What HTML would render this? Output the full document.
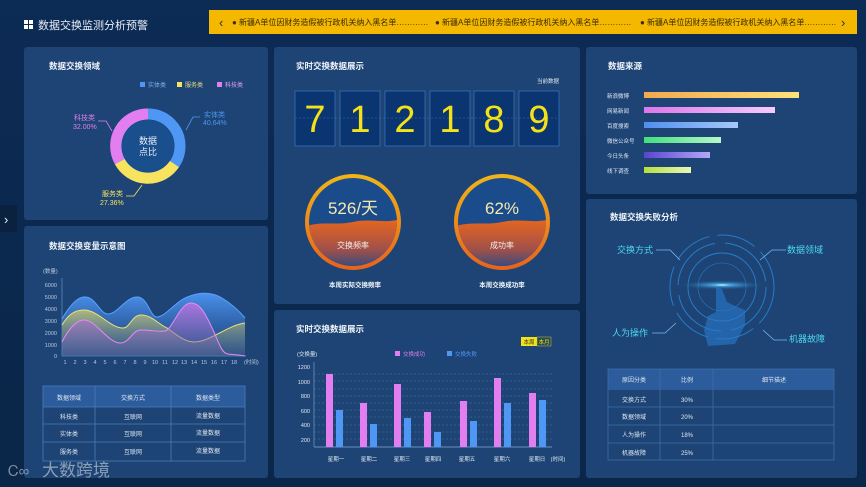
<!DOCTYPE html>
<html><head><meta charset="utf-8"><style>
html,body{margin:0;padding:0;background:#0b2a52;}
svg{display:block;font-family:"Liberation Sans","Noto Sans CJK SC",sans-serif;}
</style></head><body>
<svg width="866" height="487" viewBox="0 0 866 487" xmlns="http://www.w3.org/2000/svg">
<defs>
<linearGradient id="bg" x1="0" y1="0" x2="0" y2="1"><stop offset="0" stop-color="#0c2b55"/><stop offset="1" stop-color="#0a2648"/></linearGradient>
<linearGradient id="gb" x1="0" y1="0" x2="0" y2="1"><stop offset="0" stop-color="#4f97f5" stop-opacity="0.95"/><stop offset="1" stop-color="#2a5fae" stop-opacity="0.2"/></linearGradient>
<linearGradient id="gy" x1="0" y1="0" x2="0" y2="1"><stop offset="0" stop-color="#c8c86a" stop-opacity="0.8"/><stop offset="1" stop-color="#5a7090" stop-opacity="0.3"/></linearGradient>
<linearGradient id="gp" x1="0" y1="0" x2="0" y2="1"><stop offset="0" stop-color="#c070e0" stop-opacity="0.85"/><stop offset="1" stop-color="#6a6aa8" stop-opacity="0.3"/></linearGradient>
<linearGradient id="ring" x1="0" y1="0" x2="0" y2="1"><stop offset="0" stop-color="#f0b418"/><stop offset="1" stop-color="#e8641c"/></linearGradient>
<linearGradient id="wave" x1="0" y1="0" x2="0" y2="1"><stop offset="0" stop-color="#e8661e"/><stop offset="0.6" stop-color="#a0504a"/><stop offset="1" stop-color="#204a8a"/></linearGradient>
<linearGradient id="b1" x1="0" x2="1"><stop offset="0" stop-color="#f3a850"/><stop offset="1" stop-color="#fbe27a"/></linearGradient>
<linearGradient id="b2" x1="0" x2="1"><stop offset="0" stop-color="#de76ea"/><stop offset="1" stop-color="#f4ccfa"/></linearGradient>
<linearGradient id="b3" x1="0" x2="1"><stop offset="0" stop-color="#4f8ef0"/><stop offset="1" stop-color="#a8c8f8"/></linearGradient>
<linearGradient id="b4" x1="0" x2="1"><stop offset="0" stop-color="#40e07a"/><stop offset="1" stop-color="#b8f8c8"/></linearGradient>
<linearGradient id="b5" x1="0" x2="1"><stop offset="0" stop-color="#5a44d0"/><stop offset="1" stop-color="#b4a8f8"/></linearGradient>
<linearGradient id="b6" x1="0" x2="1"><stop offset="0" stop-color="#b4e03a"/><stop offset="1" stop-color="#eaf8b8"/></linearGradient>
<radialGradient id="glow"><stop offset="0" stop-color="#ffffff"/><stop offset="0.2" stop-color="#4fc0ff" stop-opacity="0.8"/><stop offset="1" stop-color="#1d4474" stop-opacity="0"/></radialGradient>
<clipPath id="c1"><circle cx="353" cy="222" r="44"/></clipPath>
<clipPath id="c2"><circle cx="502" cy="222" r="44"/></clipPath>
</defs>
<rect width="866" height="487" fill="url(#bg)"/>

<!-- header -->
<g fill="#fff"><rect x="24" y="20" width="4" height="4"/><rect x="29" y="20" width="4" height="4"/><rect x="24" y="25" width="4" height="4"/><rect x="29" y="25" width="4" height="4"/></g>
<text x="38" y="29" font-size="11" fill="#e8eef8">数据交换监测分析预警</text>
<rect x="209" y="10" width="648" height="24" fill="#f5b800"/>
<text x="219" y="27" font-size="13" fill="#333">‹</text>
<text x="841" y="27" font-size="13" fill="#333">›</text>
<g font-size="8" fill="#3a2c00">
<text x="232" y="25">● 新疆A单位因财务造假被行政机关纳入黑名单…………</text>
<text x="435" y="25">● 新疆A单位因财务造假被行政机关纳入黑名单…………</text>
<text x="640" y="25">● 新疆A单位因财务造假被行政机关纳入黑名单…………</text>
</g>
<rect x="0" y="205" width="17" height="27" fill="#0a2240"/>
<text x="4" y="224" font-size="13" fill="#cfe">›</text>

<!-- panels -->
<g fill="#1d4474">
<rect x="24" y="47" width="244" height="173" rx="3"/>
<rect x="24" y="226" width="244" height="252" rx="3"/>
<rect x="274" y="47" width="306" height="257" rx="3"/>
<rect x="274" y="310" width="306" height="168" rx="3"/>
<rect x="586" y="47" width="271" height="147" rx="3"/>
<rect x="586" y="199" width="271" height="279" rx="3"/>
</g>
<g font-size="8.5" fill="#f0f4fa" font-weight="bold">
<text x="49" y="69">数据交换领域</text>
<text x="49" y="249">数据交换变量示意图</text>
<text x="296" y="69">实时交换数据展示</text>
<text x="296" y="332">实时交换数据展示</text>
<text x="608" y="69">数据来源</text>
<text x="610" y="220">数据交换失败分析</text>
</g>

<!-- donut -->
<g font-size="6" >
<rect x="140" y="82" width="5" height="5" fill="#4f97f5"/><text x="148" y="87" fill="#7fb0ee">实体类</text>
<rect x="177" y="82" width="5" height="5" fill="#f7e35d"/><text x="185" y="87" fill="#e8dc80">服务类</text>
<rect x="217" y="82" width="5" height="5" fill="#e37ef0"/><text x="225" y="87" fill="#e0a0f0">科技类</text>
</g>
<circle cx="148" cy="146" r="32" fill="none" stroke="#4f97f5" stroke-width="11"/>
<path d="M148 114 A32 32 0 0 1 174.4 164.1 L148 146Z" fill="none"/>
<path d="M174.4 164.1 A32 32 0 0 1 119.7 161.6" fill="none" stroke="#f7e35d" stroke-width="11"/>
<path d="M119.7 161.6 A32 32 0 0 1 148 114" fill="none" stroke="#e37ef0" stroke-width="11"/>
<circle cx="148" cy="146" r="26" fill="#1a4f8e"/>
<text x="148" y="144" font-size="9" fill="#e8eef8" text-anchor="middle">数据</text>
<text x="148" y="155" font-size="9" fill="#e8eef8" text-anchor="middle">点比</text>
<polyline points="186,130 193,117 200,117" fill="none" stroke="#4f97f5" stroke-width="0.8"/>
<text x="204" y="117" font-size="7" fill="#4f97f5">实体类</text><text x="203" y="125" font-size="7" fill="#4f97f5">40.64%</text>
<polyline points="112,131 106,121 98,121" fill="none" stroke="#e37ef0" stroke-width="0.8"/>
<text x="74" y="120" font-size="7" fill="#e37ef0">科技类</text><text x="73" y="129" font-size="7" fill="#e37ef0">32.00%</text>
<polyline points="142,185 134,196 126,196" fill="none" stroke="#f7e35d" stroke-width="0.8"/>
<text x="102" y="196" font-size="7" fill="#f7e35d">服务类</text><text x="100" y="205" font-size="7" fill="#f7e35d">27.36%</text>

<!-- area chart -->
<g font-size="5.5" fill="#b8c8e0">
<text x="43" y="273">(数量)</text>
<text x="57" y="287" text-anchor="end">6000</text><text x="57" y="299" text-anchor="end">5000</text><text x="57" y="311" text-anchor="end">4000</text><text x="57" y="323" text-anchor="end">3000</text><text x="57" y="335" text-anchor="end">2000</text><text x="57" y="347" text-anchor="end">1000</text><text x="57" y="358" text-anchor="end">0</text>
<text x="65" y="364" text-anchor="middle">1</text><text x="75" y="364" text-anchor="middle">2</text><text x="85" y="364" text-anchor="middle">3</text><text x="95" y="364" text-anchor="middle">4</text><text x="105" y="364" text-anchor="middle">5</text><text x="115" y="364" text-anchor="middle">6</text><text x="125" y="364" text-anchor="middle">7</text><text x="135" y="364" text-anchor="middle">8</text><text x="145" y="364" text-anchor="middle">9</text><text x="155" y="364" text-anchor="middle">10</text><text x="165" y="364" text-anchor="middle">11</text><text x="175" y="364" text-anchor="middle">12</text><text x="184" y="364" text-anchor="middle">13</text><text x="194" y="364" text-anchor="middle">14</text><text x="204" y="364" text-anchor="middle">15</text><text x="214" y="364" text-anchor="middle">16</text><text x="224" y="364" text-anchor="middle">17</text><text x="234" y="364" text-anchor="middle">18</text>
<text x="244" y="364">(时间)</text>
</g>
<line x1="62" y1="278" x2="62" y2="356" stroke="#5a88c0" stroke-width="0.8"/>
<line x1="62" y1="356" x2="246" y2="356" stroke="#5a88c0" stroke-width="0.8"/>
<path d="M62 319 C70 305 78 296 86 297 C96 298 100 314 108 314 C118 314 126 296 138 297 C148 298 150 317 157 317 C166 317 176 300 190 296 C200 292 212 292 222 298 C232 304 240 312 245 318 L245 356 L62 356Z" fill="url(#gb)"/>
<path d="M62 319 C70 305 78 296 86 297 C96 298 100 314 108 314 C118 314 126 296 138 297 C148 298 150 317 157 317 C166 317 176 300 190 296 C200 292 212 292 222 298 C232 304 240 312 245 318" fill="none" stroke="#5aa0ff" stroke-width="1"/>
<path d="M62 325 C68 315 74 310 84 310 C98 310 110 328 123 328 C130 328 132 315 141 315 C152 315 158 324 167 328 C176 334 184 342 194 342 C210 342 228 325 245 323 L245 356 L62 356Z" fill="url(#gy)"/>
<path d="M62 325 C68 315 74 310 84 310 C98 310 110 328 123 328 C130 328 132 315 141 315 C152 315 158 324 167 328 C176 334 184 342 194 342 C210 342 228 325 245 323" fill="none" stroke="#f0e070" stroke-width="1"/>
<path d="M62 342 C68 330 76 320 84 320 C96 320 108 343 120 343 C130 343 132 330 141 330 C150 330 158 332 165 331 C172 330 180 303 191 303 C202 303 208 320 214 332 C220 346 222 353 228 354 C236 355 242 355 245 356 L62 356Z" fill="url(#gp)"/>
<path d="M62 342 C68 330 76 320 84 320 C96 320 108 343 120 343 C130 343 132 330 141 330 C150 330 158 332 165 331 C172 330 180 303 191 303 C202 303 208 320 214 332 C220 346 222 353 228 354 C236 355 242 355 245 356" fill="none" stroke="#e88af0" stroke-width="1"/>

<!-- left table -->
<rect x="43" y="386" width="202" height="21" fill="#2c5c9c"/>
<g stroke="#4a7cbc" stroke-width="0.8" fill="none">
<rect x="43" y="386" width="202" height="75"/>
<line x1="95" y1="386" x2="95" y2="461"/><line x1="171" y1="386" x2="171" y2="461"/>
<line x1="43" y1="407" x2="245" y2="407"/><line x1="43" y1="424" x2="245" y2="424"/><line x1="43" y1="442" x2="245" y2="442"/>
</g>
<g font-size="6" fill="#dfe8f4" text-anchor="middle">
<text x="69" y="400">数据领域</text><text x="133" y="400">交换方式</text><text x="208" y="400">数据类型</text>
<text x="69" y="419">科技类</text><text x="133" y="419">互联网</text><text x="208" y="418">流量数据</text>
<text x="69" y="436">实体类</text><text x="133" y="436">互联网</text><text x="208" y="435">流量数据</text>
<text x="69" y="454">服务类</text><text x="133" y="454">互联网</text><text x="208" y="453">流量数据</text>
</g>
<text x="42" y="476" font-size="17" fill="#b0bccc" opacity="0.75">大数跨境</text>
<text x="8" y="476" font-size="15" fill="#b0bccc" opacity="0.7">Ꮯ∞</text>

<!-- digits -->
<text x="559" y="83" font-size="5.5" fill="#e0e8f4" text-anchor="end">当前数据</text>
<g fill="#0a3570" stroke="#3a70b8" stroke-width="0.8">
<rect x="295" y="91" width="40" height="55"/><rect x="340" y="91" width="40" height="55"/><rect x="385" y="91" width="40" height="55"/><rect x="430" y="91" width="40" height="55"/><rect x="474" y="91" width="40" height="55"/><rect x="519" y="91" width="40" height="55"/>
</g>
<line x1="295" y1="118" x2="559" y2="118" stroke="#3a70b8" stroke-width="0.5" stroke-dasharray="2,2"/>
<g font-size="38" fill="#f3e21a" text-anchor="middle">
<text x="315" y="132">7</text><text x="360" y="132">1</text><text x="405" y="132">2</text><text x="450" y="132">1</text><text x="494" y="132">8</text><text x="539" y="132">9</text>
</g>

<!-- gauges -->
<g>
<circle cx="353" cy="222" r="46" fill="#1a4c8c" stroke="url(#ring)" stroke-width="4"/>
<g clip-path="url(#c1)"><path d="M300 228 C320 220 335 226 353 222 C370 218 385 224 400 219 L400 270 L300 270Z" fill="url(#wave)"/></g>
<text x="353" y="214" font-size="17" fill="#f4e8b0" text-anchor="middle">526/天</text>
<text x="353" y="248" font-size="8" fill="#f0f0f0" text-anchor="middle">交换频率</text>
<text x="355" y="287" font-size="6.5" fill="#f0f4fa" text-anchor="middle" font-weight="bold">本周实际交换频率</text>
<circle cx="502" cy="222" r="46" fill="#1a4c8c" stroke="url(#ring)" stroke-width="4"/>
<g clip-path="url(#c2)"><path d="M450 228 C470 220 485 226 502 222 C520 218 535 224 550 219 L550 270 L450 270Z" fill="url(#wave)"/></g>
<text x="502" y="214" font-size="17" fill="#f4e8b0" text-anchor="middle">62%</text>
<text x="502" y="248" font-size="8" fill="#f0f0f0" text-anchor="middle">成功率</text>
<text x="502" y="287" font-size="6.5" fill="#f0f4fa" text-anchor="middle" font-weight="bold">本周交换成功率</text>
</g>

<!-- bar chart -->
<rect x="521" y="337" width="16" height="9" fill="#f3e21a"/><rect x="537" y="337" width="14" height="9" fill="#2a4a50" stroke="#c8c040" stroke-width="0.5"/>
<text x="529" y="344" font-size="5.5" fill="#333" text-anchor="middle">本周</text><text x="544" y="344" font-size="5.5" fill="#f3e21a" text-anchor="middle">本月</text>
<rect x="395" y="351" width="5" height="5" fill="#e37ef0"/><text x="403" y="356" font-size="5.5" fill="#e37ef0">交换成功</text>
<rect x="447" y="351" width="5" height="5" fill="#4f97f5"/><text x="455" y="356" font-size="5.5" fill="#4f97f5">交换失败</text>
<g font-size="5.5" fill="#dfe8f4">
<text x="297" y="356">(交换量)</text>
<text x="310" y="369" text-anchor="end">1200</text><text x="310" y="384" text-anchor="end">1000</text><text x="310" y="398" text-anchor="end">800</text><text x="310" y="413" text-anchor="end">600</text><text x="310" y="427" text-anchor="end">400</text><text x="310" y="442" text-anchor="end">200</text>
</g>
<g stroke="#4a74a8" stroke-width="0.5" stroke-dasharray="2,2">
<line x1="314" y1="374" x2="552" y2="374"/><line x1="314" y1="381" x2="552" y2="381"/><line x1="314" y1="389" x2="552" y2="389"/><line x1="314" y1="396" x2="552" y2="396"/><line x1="314" y1="403" x2="552" y2="403"/><line x1="314" y1="410" x2="552" y2="410"/><line x1="314" y1="417" x2="552" y2="417"/><line x1="314" y1="425" x2="552" y2="425"/><line x1="314" y1="432" x2="552" y2="432"/><line x1="314" y1="439" x2="552" y2="439"/>
</g>
<line x1="314" y1="362" x2="314" y2="447" stroke="#6a90c0" stroke-width="0.8"/>
<line x1="314" y1="447" x2="552" y2="447" stroke="#6a90c0" stroke-width="1"/>
<g fill="#e37ef0">
<rect x="326" y="374" width="7" height="73"/><rect x="360" y="403" width="7" height="44"/><rect x="394" y="384" width="7" height="63"/><rect x="424" y="412" width="7" height="35"/><rect x="460" y="401" width="7" height="46"/><rect x="494" y="378" width="7" height="69"/><rect x="529" y="393" width="7" height="54"/>
</g>
<g fill="#4f97f5">
<rect x="336" y="410" width="7" height="37"/><rect x="370" y="424" width="7" height="23"/><rect x="404" y="418" width="7" height="29"/><rect x="434" y="432" width="7" height="15"/><rect x="470" y="421" width="7" height="26"/><rect x="504" y="403" width="7" height="44"/><rect x="539" y="400" width="7" height="47"/>
</g>
<g font-size="5.5" fill="#dfe8f4" text-anchor="middle">
<text x="336" y="461">星期一</text><text x="369" y="461">星期二</text><text x="402" y="461">星期三</text><text x="433" y="461">星期四</text><text x="467" y="461">星期五</text><text x="502" y="461">星期六</text><text x="537" y="461">星期日</text><text x="558" y="461">(时间)</text>
</g>

<!-- data source bars -->
<g font-size="5.5" fill="#dfe8f4">
<text x="607" y="98">新浪微博</text><text x="607" y="113">网易新闻</text><text x="607" y="128">百度搜索</text><text x="607" y="143">微信公众号</text><text x="607" y="158">今日头条</text><text x="607" y="173">线下调查</text>
</g>
<rect x="644" y="92" width="155" height="6" fill="url(#b1)"/>
<rect x="644" y="107" width="131" height="6" fill="url(#b2)"/>
<rect x="644" y="122" width="94" height="6" fill="url(#b3)"/>
<rect x="644" y="137" width="77" height="6" fill="url(#b4)"/>
<rect x="644" y="152" width="66" height="6" fill="url(#b5)"/>
<rect x="644" y="167" width="47" height="6" fill="url(#b6)"/>

<!-- failure analysis graphic -->
<g fill="none" stroke="#2a8ae0" stroke-width="1" opacity="0.8">
<circle cx="722" cy="287" r="52" stroke-dasharray="40,8"/>
<circle cx="722" cy="287" r="44" stroke-dasharray="60,10"/>
<circle cx="722" cy="287" r="34"/>
<circle cx="722" cy="287" r="24" stroke-width="0.6"/>
</g>
<ellipse cx="722" cy="285" rx="45" ry="5" fill="url(#glow)"/>
<path d="M716 287 L722 289 L727 302 L735 306 L745 310 L745 325 L735 344 L708 346 L704 330 L708 316 L716 312Z" fill="#2a7ad0" opacity="0.6"/>
<g stroke="#7ab8e8" stroke-width="0.8" fill="none">
<polyline points="656,250 670,250 680,260"/><polyline points="786,250 772,250 760,260"/><polyline points="652,333 665,333 676,323"/><polyline points="787,340 774,340 763,330"/>
</g>
<g font-size="9" fill="#4fd8f0">
<text x="617" y="253">交换方式</text><text x="787" y="253">数据领域</text><text x="612" y="336">人为操作</text><text x="789" y="342">机器故障</text>
</g>
<rect x="608" y="369" width="226" height="21" fill="#2c5c9c"/>
<g stroke="#3e6ea8" stroke-width="0.8" fill="none">
<rect x="608" y="369" width="226" height="91"/>
<line x1="660" y1="369" x2="660" y2="460"/><line x1="713" y1="369" x2="713" y2="460"/>
<line x1="608" y1="407" x2="834" y2="407"/><line x1="608" y1="425" x2="834" y2="425"/><line x1="608" y1="443" x2="834" y2="443"/>
</g>
<g font-size="6" fill="#dfe8f4" text-anchor="middle">
<text x="634" y="382">原因分类</text><text x="687" y="382">比例</text><text x="774" y="382">细节描述</text>
<text x="634" y="402">交换方式</text><text x="687" y="402">30%</text>
<text x="634" y="419">数据领域</text><text x="687" y="419">20%</text>
<text x="634" y="437">人为操作</text><text x="687" y="437">18%</text>
<text x="634" y="455">机器故障</text><text x="687" y="455">25%</text>
</g>
</svg>
</body></html>
